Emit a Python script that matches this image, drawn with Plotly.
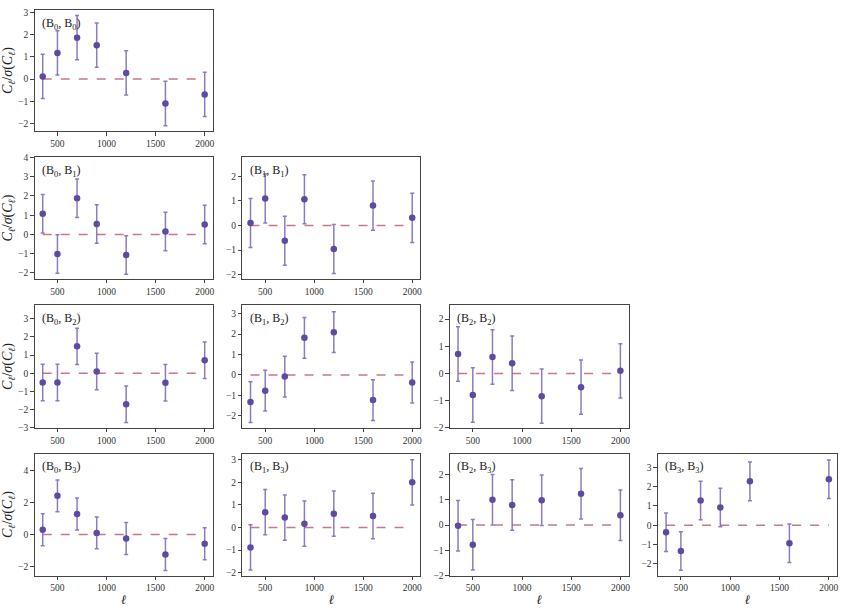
import plotly.graph_objects as go
from plotly.subplots import make_subplots

# ============================================================
# Data
# ============================================================

ell = [350, 500, 700, 900, 1200, 1600, 2000]
bins = ["B<sub>0</sub>", "B<sub>1</sub>", "B<sub>2</sub>", "B<sub>3</sub>"]

# (row, col) -> C_l / sigma(C_l), error bars are +-1
snr_00 = [0.12, 1.18, 1.87, 1.53, 0.28, -1.10, -0.69]
snr_10 = [1.07, -1.02, 1.88, 0.55, -1.07, 0.15, 0.52]
snr_11 = [0.10, 1.10, -0.62, 1.07, -0.96, 0.81, 0.31]
snr_20 = [-0.50, -0.50, 1.48, 0.10, -1.70, -0.52, 0.72]
snr_21 = [-1.33, -0.77, -0.08, 1.82, 2.10, -1.23, -0.37]
snr_22 = [0.72, -0.79, 0.61, 0.38, -0.83, -0.50, 0.10]
snr_30 = [0.30, 2.42, 1.28, 0.10, -0.25, -1.25, -0.58]
snr_31 = [-0.88, 0.68, 0.44, 0.17, 0.61, 0.51, 2.00]
snr_32 = [-0.03, -0.78, 1.00, 0.79, 0.98, 1.24, 0.39]
snr_33 = [-0.36, -1.33, 1.28, 0.92, 2.27, -0.93, 2.38]

panels = {
    (0, 0): snr_00,
    (1, 0): snr_10, (1, 1): snr_11,
    (2, 0): snr_20, (2, 1): snr_21, (2, 2): snr_22,
    (3, 0): snr_30, (3, 1): snr_31, (3, 2): snr_32, (3, 3): snr_33,
}

y_ranges = {
    (0, 0): [-2.35, 3.12],
    (1, 0): [-2.30, 4.0], (1, 1): [-2.17, 2.77],
    (2, 0): [-3.0, 3.75], (2, 1): [-2.6, 3.43], (2, 2): [-2.0, 2.52],
    (3, 0): [-2.57, 5.07], (3, 1): [-2.12, 3.27], (3, 2): [-2.0, 2.83], (3, 3): [-2.6, 3.71],
}
y_dtick = {(3, 0): 2}

x_range = [267.5, 2082.5]

# ============================================================
# Layout geometry (pixels of a 843x611 page)
# ============================================================

W, H = 843, 611
col_px = [(34.7, 213.3), (243.0, 421.3), (451.0, 630.0), (659.5, 839.0)]
row_px = [(5.0, 128.3), (155.0, 278.3), (305.0, 430.0), (456.0, 580.0)]

POINT = "#5f4b9e"
BAR = "rgba(120,100,180,0.85)"
ZERO = "#c27a90"
FRAME = "#444444"
FONT = "Liberation Serif"

fig = make_subplots(rows=4, cols=4)

for (r, c), vals in panels.items():
    fig.add_trace(
        go.Scatter(
            x=[ell[0], ell[-1]],
            y=[0, 0],
            mode="lines",
            line=dict(color=ZERO, width=1.5, dash="dash"),
            hoverinfo="skip",
        ),
        row=r + 1, col=c + 1,
    )
    fig.add_trace(
        go.Scatter(
            x=ell,
            y=vals,
            mode="markers",
            marker=dict(color=POINT, size=6.5),
            error_y=dict(type="constant", value=1, color=BAR, thickness=1.5, width=2),
        ),
        row=r + 1, col=c + 1,
    )

for r in range(4):
    for c in range(4):
        idx = r * 4 + c + 1
        sfx = "" if idx == 1 else str(idx)
        xd = [col_px[c][0] / W, col_px[c][1] / W]
        yd = [1 - row_px[r][1] / H, 1 - row_px[r][0] / H]
        if (r, c) not in panels:
            fig.layout["xaxis" + sfx].update(visible=False, domain=xd)
            fig.layout["yaxis" + sfx].update(visible=False, domain=yd)
            continue
        fig.layout["xaxis" + sfx].update(
            domain=xd,
            range=x_range,
            tickvals=[500, 1000, 1500, 2000],
            ticks="outside", ticklen=3.5, tickwidth=0.8, tickcolor=FRAME,
            showline=True, linecolor=FRAME, linewidth=1, mirror=True,
            showgrid=False, zeroline=False,
            tickfont=dict(size=9.5, family=FONT, color="#333"),
            title=dict(text="<i>ℓ</i>", standoff=2,
                       font=dict(size=13, family=FONT, color="#222")) if r == 3 else None,
        )
        fig.layout["yaxis" + sfx].update(
            domain=yd,
            range=y_ranges[(r, c)],
            dtick=y_dtick.get((r, c), 1),
            tick0=0,
            ticks="outside", ticklen=3.5, tickwidth=0.8, tickcolor=FRAME,
            showline=True, linecolor=FRAME, linewidth=1, mirror=True,
            showgrid=False, zeroline=False,
            tickfont=dict(size=9.5, family=FONT, color="#333"),
            title=dict(
                text="<i>C</i><sub><i>ℓ</i></sub>/<i>σ</i>(<i>C</i><sub><i>ℓ</i></sub>)",
                standoff=4, font=dict(size=14, family=FONT, color="#222"),
            ) if c == 0 else None,
        )
        fig.add_annotation(
            text=f"({bins[c]}, {bins[r]})",
            xref=f"x{sfx} domain", yref=f"y{sfx} domain",
            x=0.03, y=0.97, xanchor="left", yanchor="top",
            showarrow=False,
            font=dict(size=12, family=FONT, color="#222"),
        )

fig.update_layout(
    width=W, height=H,
    margin=dict(l=0, r=0, t=0, b=0),
    paper_bgcolor="white",
    plot_bgcolor="white",
    showlegend=False,
    font=dict(family=FONT, color="#222"),
)

fig.write_html(
    "out.html",
    config={"displayModeBar": False},
    post_script="document.body.style.margin='0';",
)
